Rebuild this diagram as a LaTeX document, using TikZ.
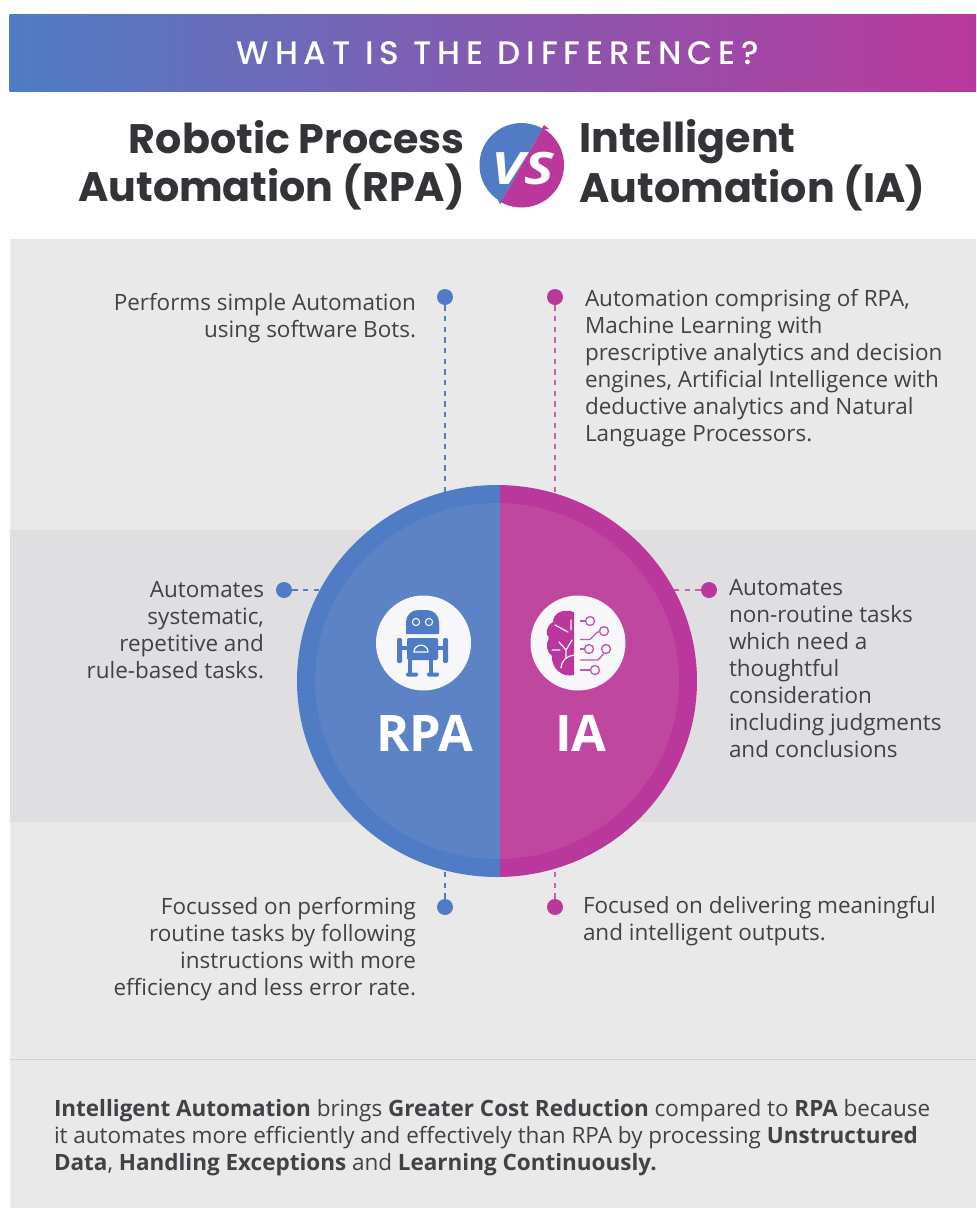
\documentclass[tikz,border=0pt]{standalone}
\usepackage{fontspec}
\setmainfont{Open Sans}
\newfontfamily\headfont{Poppins Bold}
\newfontfamily\titlefont[LetterSpace=18]{Poppins Medium}
\usetikzlibrary{calc}
\definecolor{rpablue}{HTML}{5B83C6}
\definecolor{rpadark}{HTML}{4F7CC4}
\definecolor{iapink}{HTML}{C0479F}
\definecolor{iadark}{HTML}{BA389C}
\definecolor{panel}{HTML}{E9E9EA}
\definecolor{band}{HTML}{DFDEE1}
\definecolor{ink}{HTML}{414146}
\definecolor{headink}{HTML}{333338}
\definecolor{iconbg}{HTML}{F7F6F9}
\tikzset{
  x=0.75pt,y=-0.75pt,
  body/.style={font=\fontsize{16.85pt}{20.25pt}\selectfont,text=ink,inner sep=0pt,outer sep=0pt},
  bodyl/.style={body,anchor=north west,align=left},
  bodyr/.style={body,anchor=north east,align=right},
  head/.style={font=\headfont\fontsize{30.9pt}{36pt}\selectfont,text=headink,inner sep=0pt},
  bluedot/.style={circle,fill=rpadark,minimum size=12pt,inner sep=0pt},
  pinkdot/.style={circle,fill=iadark,minimum size=12pt,inner sep=0pt},
  bluedash/.style={draw=rpadark,line width=0.9pt,dash pattern=on 4pt off 4pt},
  pinkdash/.style={draw=iadark!80!white,line width=0.9pt,dash pattern=on 4pt off 4pt},
}
\begin{document}
\begin{tikzpicture}
\useasboundingbox (0,0) rectangle (976,1208);
\fill[white] (0,0) rectangle (976,1208);
% header
\shade[left color=rpadark,right color=iadark,middle color=rpadark!50!iadark] (9.5,14) rectangle (976,91);
\node[font=\titlefont\fontsize{24.4pt}{26pt}\selectfont,text=white,inner sep=0pt] (title) at (498,53) {WHAT IS THE DIFFERENCE?};
\node[head,anchor=east,align=right] (left) at (465,165.5) {Robotic Process\\Automation (RPA)};
\node[head,anchor=west,align=left] (right) at (579,165.5) {Intelligent\\Automation (IA)};
% vs badge
\begin{scope}
\clip (544,126) -- (500,204) -- (470,204) -- (470,120) -- (544,120) -- cycle;
\fill[rpadark] (521.5,165) circle (42);
\end{scope}
\fill[rpadark] (498,200) -- (504,198) -- (500,204.5) -- cycle;
\begin{scope}
\clip (544,126) -- (500,204) -- (500,210) -- (575,210) -- (575,120) -- (544,120) -- cycle;
\fill[iadark] (521.5,165) circle (42.5);
\end{scope}
\fill[iadark] (541,130) -- (544,125) -- (549,129) -- cycle;
\node[font=\bfseries\itshape\fontsize{33.5pt}{33.5pt}\selectfont,text=white,inner sep=0pt] (vs) at (523,169) {\scalebox{1.25}[1]{VS}};
% panels
\fill[panel] (9.5,239) rectangle (976,1208);
\fill[band] (9.5,530) rectangle (976,822);
\draw[draw=black!18,line width=0.9pt] (9.5,1059.5) -- (976,1059.5);
% dots
\node[bluedot] (d1) at (445,297) {};
\node[pinkdot] (d2) at (555,297) {};
\node[bluedot] (d3) at (284,590) {};
\node[pinkdot] (d4) at (709,590) {};
\node[bluedot] (d5) at (445,907) {};
\node[pinkdot] (d6) at (555,907) {};
\coordinate (c1) at (445,500);
\coordinate (c2) at (555,500);
\coordinate (c3) at (340,590);
\coordinate (c4) at (655,590);
\coordinate (c5) at (445,860);
\coordinate (c6) at (555,860);
\draw[bluedash] (d1) -- (c1);
\draw[pinkdash] (d2) -- (c2);
\draw[bluedash] (d3) -- (c3);
\draw[pinkdash] (d4) -- (c4);
\draw[bluedash] (d5) -- (c5);
\draw[pinkdash] (d6) -- (c6);
% circle
\begin{scope}
\clip (280,470) rectangle (500,890);
\fill[rpadark] (497,681) ellipse [x radius=200,y radius=196];
\fill[rpablue] (497,681) ellipse [x radius=182,y radius=178];
\end{scope}
\begin{scope}
\clip (500,470) rectangle (710,890);
\fill[iadark] (497,681) ellipse [x radius=200,y radius=196];
\fill[iapink] (497,681) ellipse [x radius=182,y radius=178];
\end{scope}
% icons
\fill[iconbg] (423.5,643) circle (47.5);
\fill[iconbg] (578,643) circle (47.5);
\node[font=\bfseries\fontsize{37.8pt}{37.8pt}\selectfont,text=white,inner sep=0pt] (rpa) at (425,733) {RPA};
\node[font=\bfseries\fontsize{37.8pt}{37.8pt}\selectfont,text=white,inner sep=0pt] (ia) at (581,733) {IA};
% robot
\begin{scope}[rpadark]
\fill[rounded corners=9pt] (406,645) -- (406,610) -- (439,610) -- (439,645) -- cycle;
\fill[iconbg] (404,634) rectangle (441,650);
\fill[rounded corners=1pt] (406,623) rectangle (439,634);
\fill[rounded corners=1pt] (407,638) rectangle (438,660);
\fill[rounded corners=1pt] (397,638) rectangle (402,663);
\fill[rounded corners=1pt] (443,638) rectangle (448,663);
\fill (402,646) rectangle (407,650);
\fill (438,646) rectangle (443,650);
\fill (408,660) rectangle (412,674);
\fill (429,660) rectangle (433,674);
\fill[rounded corners=1pt] (406,672.5) rectangle (418,676.5);
\fill[rounded corners=1pt] (427,672.5) rectangle (439,676.5);
\end{scope}
\draw[iconbg,line width=0.8pt] (416,622) circle (3.6);
\draw[iconbg,line width=0.8pt] (429,622) circle (3.6);
\draw[iconbg,line width=0.9pt] (414,652) .. controls (414,643) and (428,643) .. (428,652) -- cycle;
% brain
\fill[iadark] (574,612) .. controls (562,608) and (553,614) .. (553,622)
 .. controls (546,626) and (545,634) .. (549,638)
 .. controls (545,644) and (547,653) .. (552,656)
 .. controls (551,668) and (562,678) .. (574,675) -- cycle;
\draw[iconbg,line width=0.9pt,line cap=round] (572,640) -- (566,650) -- (566,658) (566,650) -- (559,642) (575,655) .. controls (566,656) and (562,660) .. (561,668) (555,625) -- (568,632) (552,650) -- (560,650) (571,620) -- (571,630);
\begin{scope}[draw=iadark!85!white,line width=1pt]
\draw (580,621) -- (585.5,621);
\draw (590,621) circle (4.5);
\draw (580,639.5) -- (590,639.5) -- (597,632.5) -- (599.5,631.5);
\draw (604,631) circle (4.5);
\draw (580,649) -- (584.5,649);
\draw (589,649) circle (4.5);
\draw (580,660) -- (598,660) -- (604,653.5);
\draw (606,649) circle (4.5);
\draw (580,670) -- (590.5,670);
\draw (595,670) circle (4.5);
\end{scope}
% texts
\node[bodyr] (t1) at (416,293) {Performs simple Automation\\using software Bots.};
\node[bodyl] (t2) at (585,289) {Automation comprising of RPA,\\Machine Learning with\\prescriptive analytics and decision\\engines, Artificial Intelligence with\\deductive analytics and Natural\\Language Processors.};
\node[bodyr] (t3) at (264,581.5) {Automates\\systematic,\\repetitive and\\rule-based tasks.};
\node[bodyl] (t4) at (729,579.5) {Automates\\non-routine tasks\\which need a\\thoughtful\\consideration\\including judgments\\and conclusions};
\node[bodyr] (t5) at (416,897) {Focussed on performing\\routine tasks by following\\instructions with more\\efficiency and less error rate.};
\node[bodyl] (t6) at (583,896) {Focused on delivering meaningful\\and intelligent outputs.};
\node[bodyl] (t7) at (54,1099) {\textbf{Intelligent Automation} brings \textbf{Greater Cost Reduction} compared to \textbf{RPA} because\\it automates more efficiently and effectively than RPA by processing \textbf{Unstructured}\\\textbf{Data}, \textbf{Handling Exceptions} and \textbf{Learning Continuously.}};
\end{tikzpicture}
\end{document}
